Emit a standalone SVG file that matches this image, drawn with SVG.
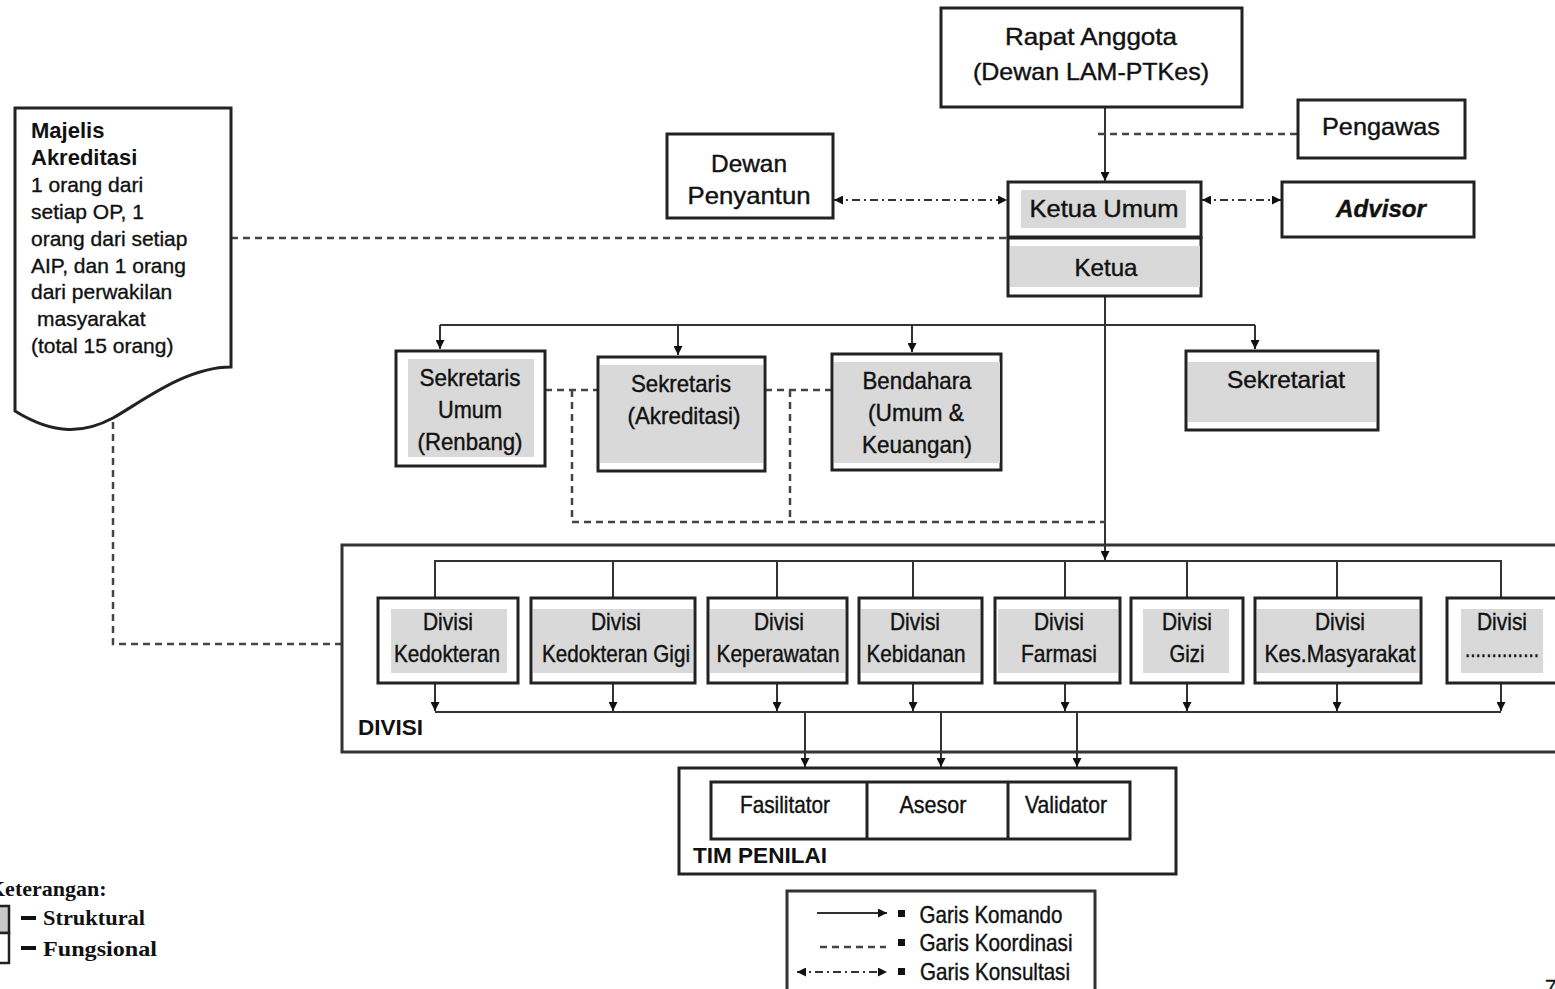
<svg xmlns="http://www.w3.org/2000/svg" width="1555" height="989" viewBox="0 0 1555 989">
  <defs>
    <style>
      .box{fill:#fff;stroke:#222;stroke-width:3}
      .gray{fill:#d9d9d9;stroke:none}
      .n{font-family:"Liberation Sans Narrow","Liberation Sans",Arial,sans-serif;fill:#111;stroke:#111;stroke-width:0.4;text-anchor:middle;font-size:24px}
      .s{font-family:"Liberation Sans",Arial,sans-serif;fill:#111;stroke:#111;stroke-width:0.35;font-size:21px}
      .sb{font-family:"Liberation Sans",Arial,sans-serif;fill:#111;font-size:22px;font-weight:bold}
      .serif{font-family:"Liberation Serif","Times New Roman",serif;fill:#111;font-weight:bold;font-size:22px}
      .cmd{fill:none;stroke:#333;stroke-width:2}
      .coord{fill:none;stroke:#444;stroke-width:2.5;stroke-dasharray:7 5}
      .cons{fill:none;stroke:#333;stroke-width:2;stroke-dasharray:8 4 2 4}
    </style>
    <marker id="arr" viewBox="0 0 10 10" refX="10" refY="5" markerWidth="9" markerHeight="9" markerUnits="userSpaceOnUse" orient="auto-start-reverse">
      <path d="M0,0 L10,5 L0,10 Z" fill="#111"/>
    </marker>
  </defs>

  <!-- connectors -->
  <g id="connectors">
    <!-- command lines -->
    <path class="cmd" d="M1105,107 V181" marker-end="url(#arr)"/>
    <path class="cmd" d="M1105,296 V560" marker-end="url(#arr)"/>
    <path class="cmd" d="M440,325 H1255"/>
    <path class="cmd" d="M440,325 V349" marker-end="url(#arr)"/>
    <path class="cmd" d="M678,325 V355" marker-end="url(#arr)"/>
    <path class="cmd" d="M912,325 V352" marker-end="url(#arr)"/>
    <path class="cmd" d="M1255,325 V349" marker-end="url(#arr)"/>
    <path class="cmd" d="M435,598 V561 H1501 V598"/>
    <path class="cmd" d="M613,561 V598 M777,561 V598 M913,561 V598 M1065,561 V598 M1187,561 V598 M1337,561 V598"/>
    <path class="cmd" d="M435,712 H1501"/>
    <path class="cmd" d="M435,683 V711" marker-end="url(#arr)"/>
    <path class="cmd" d="M613,683 V711" marker-end="url(#arr)"/>
    <path class="cmd" d="M777,683 V711" marker-end="url(#arr)"/>
    <path class="cmd" d="M913,683 V711" marker-end="url(#arr)"/>
    <path class="cmd" d="M1065,683 V711" marker-end="url(#arr)"/>
    <path class="cmd" d="M1187,683 V711" marker-end="url(#arr)"/>
    <path class="cmd" d="M1337,683 V711" marker-end="url(#arr)"/>
    <path class="cmd" d="M1501,683 V711" marker-end="url(#arr)"/>
    <path class="cmd" d="M805,712 V767" marker-end="url(#arr)"/>
    <path class="cmd" d="M941,712 V767" marker-end="url(#arr)"/>
    <path class="cmd" d="M1077,712 V767" marker-end="url(#arr)"/>
    <!-- coordination lines -->
    <path class="coord" d="M1098,134 H1298"/>
    <path class="coord" d="M231,238 H1008"/>
    <path class="coord" d="M545,390 H598 M765,390 H832"/>
    <path class="coord" d="M572,390 V522 H1105"/>
    <path class="coord" d="M790,390 V518"/>
    <path class="coord" d="M113,422 V644 H342"/>
    <!-- consultation lines -->
    <path class="cons" d="M834,200 H1007" marker-start="url(#arr)" marker-end="url(#arr)"/>
    <path class="cons" d="M1202,200 H1281" marker-start="url(#arr)" marker-end="url(#arr)"/>
  </g>

  <!-- top level -->
  <g id="rapat-anggota">
    <rect class="box" x="941" y="8" width="301" height="99"/>
    <text class="n" x="1091" y="45" font-size="27" textLength="172" lengthAdjust="spacingAndGlyphs">Rapat Anggota</text>
    <text class="n" x="1091" y="80" font-size="27" textLength="236" lengthAdjust="spacingAndGlyphs">(Dewan LAM-PTKes)</text>
  </g>
  <g id="pengawas">
    <rect class="box" x="1298" y="100" width="167" height="58"/>
    <text class="n" x="1381" y="135" font-size="26" textLength="118" lengthAdjust="spacingAndGlyphs">Pengawas</text>
  </g>
  <g id="dewan-penyantun">
    <rect class="box" x="667" y="134" width="166" height="84"/>
    <text class="n" x="749" y="172" font-size="26" textLength="76" lengthAdjust="spacingAndGlyphs">Dewan</text>
    <text class="n" x="749" y="204" font-size="26" textLength="123" lengthAdjust="spacingAndGlyphs">Penyantun</text>
  </g>
  <g id="ketua-umum">
    <rect class="box" x="1008" y="182" width="193" height="55"/>
    <rect class="gray" x="1021" y="190" width="165" height="38"/>
    <text class="n" x="1104" y="217" font-size="26" textLength="149" lengthAdjust="spacingAndGlyphs">Ketua Umum</text>
  </g>
  <g id="ketua">
    <rect class="box" x="1008" y="238" width="193" height="58"/>
    <rect class="gray" x="1010" y="246" width="190" height="41"/>
    <text class="n" x="1106" y="276" font-size="26" textLength="63" lengthAdjust="spacingAndGlyphs">Ketua</text>
  </g>
  <g id="advisor">
    <rect class="box" x="1282" y="182" width="192" height="55"/>
    <text class="n" x="1381" y="217" font-size="26" font-weight="bold" font-style="italic" textLength="90" lengthAdjust="spacingAndGlyphs">Advisor</text>
  </g>

  <!-- Majelis Akreditasi (document shape) -->
  <g id="majelis-akreditasi">
    <path class="box" d="M15,108 H231 V367 C185,367 140,403 113,418 C85,433 55,436 15,411 Z"/>
    <text class="sb" x="31" y="138">Majelis</text>
    <text class="sb" x="31" y="165">Akreditasi</text>
    <text class="s" x="31" y="192">1 orang dari</text>
    <text class="s" x="31" y="219">setiap OP, 1</text>
    <text class="s" x="31" y="246">orang dari setiap</text>
    <text class="s" x="31" y="273">AIP, dan 1 orang</text>
    <text class="s" x="31" y="299">dari perwakilan</text>
    <text class="s" x="37" y="326">masyarakat</text>
    <text class="s" x="31" y="353">(total 15 orang)</text>
  </g>

  <!-- second level -->
  <g id="sekretaris-umum">
    <rect class="box" x="396" y="351" width="149" height="115"/>
    <rect class="gray" x="408" y="359" width="126" height="98"/>
    <text class="n" x="470" y="386" textLength="101" lengthAdjust="spacingAndGlyphs">Sekretaris</text>
    <text class="n" x="470" y="418" textLength="64" lengthAdjust="spacingAndGlyphs">Umum</text>
    <text class="n" x="470" y="450" textLength="105" lengthAdjust="spacingAndGlyphs">(Renbang)</text>
  </g>
  <g id="sekretaris-akreditasi">
    <rect class="box" x="598" y="357" width="167" height="114"/>
    <rect class="gray" x="600" y="365" width="163" height="98"/>
    <text class="n" x="681" y="392" textLength="100" lengthAdjust="spacingAndGlyphs">Sekretaris</text>
    <text class="n" x="684" y="424" textLength="113" lengthAdjust="spacingAndGlyphs">(Akreditasi)</text>
  </g>
  <g id="bendahara">
    <rect class="box" x="832" y="354" width="169" height="116"/>
    <rect class="gray" x="834" y="362" width="166" height="101"/>
    <text class="n" x="917" y="389" textLength="109" lengthAdjust="spacingAndGlyphs">Bendahara</text>
    <text class="n" x="916" y="421" textLength="96" lengthAdjust="spacingAndGlyphs">(Umum &amp;</text>
    <text class="n" x="917" y="453" textLength="110" lengthAdjust="spacingAndGlyphs">Keuangan)</text>
  </g>
  <g id="sekretariat">
    <rect class="box" x="1186" y="351" width="192" height="79"/>
    <rect class="gray" x="1188" y="362" width="188" height="60"/>
    <text class="n" x="1286" y="388" font-size="26" textLength="118" lengthAdjust="spacingAndGlyphs">Sekretariat</text>
  </g>

  <!-- DIVISI container -->
  <g id="divisi">
    <path d="M1560,545 H342 V752 H1560" fill="none" stroke="#333" stroke-width="3"/>
    <text class="sb" x="358" y="735" textLength="65" lengthAdjust="spacingAndGlyphs">DIVISI</text>
  </g>
  <g id="divisi-kedokteran">
    <rect class="box" x="378" y="598" width="140" height="85"/>
    <rect class="gray" x="391" y="609" width="116" height="64"/>
    <text class="n" x="448" y="630" font-size="23" textLength="50" lengthAdjust="spacingAndGlyphs">Divisi</text>
    <text class="n" x="447" y="662" font-size="23" textLength="106" lengthAdjust="spacingAndGlyphs">Kedokteran</text>
  </g>
  <g id="divisi-kedokteran-gigi">
    <rect class="box" x="531" y="598" width="164" height="85"/>
    <rect class="gray" x="533" y="609" width="160" height="64"/>
    <text class="n" x="616" y="630" font-size="23" textLength="50" lengthAdjust="spacingAndGlyphs">Divisi</text>
    <text class="n" x="616" y="662" font-size="23" textLength="148" lengthAdjust="spacingAndGlyphs">Kedokteran Gigi</text>
  </g>
  <g id="divisi-keperawatan">
    <rect class="box" x="708" y="598" width="139" height="85"/>
    <rect class="gray" x="710" y="609" width="135" height="64"/>
    <text class="n" x="779" y="630" font-size="23" textLength="50" lengthAdjust="spacingAndGlyphs">Divisi</text>
    <text class="n" x="778" y="662" font-size="23" textLength="123" lengthAdjust="spacingAndGlyphs">Keperawatan</text>
  </g>
  <g id="divisi-kebidanan">
    <rect class="box" x="859" y="598" width="123" height="85"/>
    <rect class="gray" x="861" y="609" width="119" height="64"/>
    <text class="n" x="915" y="630" font-size="23" textLength="50" lengthAdjust="spacingAndGlyphs">Divisi</text>
    <text class="n" x="916" y="662" font-size="23" textLength="99" lengthAdjust="spacingAndGlyphs">Kebidanan</text>
  </g>
  <g id="divisi-farmasi">
    <rect class="box" x="995" y="598" width="125" height="85"/>
    <rect class="gray" x="998" y="609" width="120" height="64"/>
    <text class="n" x="1059" y="630" font-size="23" textLength="50" lengthAdjust="spacingAndGlyphs">Divisi</text>
    <text class="n" x="1059" y="662" font-size="23" textLength="76" lengthAdjust="spacingAndGlyphs">Farmasi</text>
  </g>
  <g id="divisi-gizi">
    <rect class="box" x="1131" y="598" width="112" height="85"/>
    <rect class="gray" x="1143" y="609" width="86" height="64"/>
    <text class="n" x="1187" y="630" font-size="23" textLength="50" lengthAdjust="spacingAndGlyphs">Divisi</text>
    <text class="n" x="1187" y="662" font-size="23" textLength="35" lengthAdjust="spacingAndGlyphs">Gizi</text>
  </g>
  <g id="divisi-kes-masyarakat">
    <rect class="box" x="1255" y="598" width="166" height="85"/>
    <rect class="gray" x="1257" y="609" width="162" height="64"/>
    <text class="n" x="1340" y="630" font-size="23" textLength="50" lengthAdjust="spacingAndGlyphs">Divisi</text>
    <text class="n" x="1340" y="662" font-size="23" textLength="151" lengthAdjust="spacingAndGlyphs">Kes.Masyarakat</text>
  </g>
  <g id="divisi-lainnya">
    <path class="box" d="M1560,598 H1447 V683 H1560"/>
    <rect class="gray" x="1461" y="609" width="82" height="64"/>
    <text class="n" x="1502" y="630" font-size="23" textLength="50" lengthAdjust="spacingAndGlyphs">Divisi</text>
    <text class="n" x="1502" y="657" font-size="23" textLength="74" lengthAdjust="spacingAndGlyphs">..............</text>
  </g>

  <!-- TIM PENILAI -->
  <g id="tim-penilai">
    <rect class="box" x="679" y="768" width="497" height="106"/>
    <rect class="box" x="711" y="782" width="419" height="57"/>
    <path d="M867,782 V839 M1008,782 V839" stroke="#222" stroke-width="3"/>
    <text class="n" x="785" y="813" textLength="90" lengthAdjust="spacingAndGlyphs">Fasilitator</text>
    <text class="n" x="933" y="813" textLength="67" lengthAdjust="spacingAndGlyphs">Asesor</text>
    <text class="n" x="1066" y="813" textLength="82" lengthAdjust="spacingAndGlyphs">Validator</text>
    <text class="sb" x="693" y="863" textLength="134" lengthAdjust="spacingAndGlyphs">TIM PENILAI</text>
  </g>

  <!-- legend: line types -->
  <g id="legend-lines">
    <path d="M787,995 V891 H1095 V995" fill="none" stroke="#333" stroke-width="3"/>
    <path class="cmd" d="M817,913 H887" marker-end="url(#arr)"/>
    <rect x="898" y="910" width="7" height="7" fill="#111"/>
    <text class="n" x="991" y="923" font-size="22" textLength="143" lengthAdjust="spacingAndGlyphs">Garis Komando</text>
    <path class="coord" d="M820,947 H886"/>
    <rect x="898" y="939" width="7" height="7" fill="#111"/>
    <text class="n" x="996" y="951" font-size="22" textLength="153" lengthAdjust="spacingAndGlyphs">Garis Koordinasi</text>
    <path class="cons" d="M797,972 H887" marker-start="url(#arr)" marker-end="url(#arr)"/>
    <rect x="898" y="968" width="7" height="7" fill="#111"/>
    <text class="n" x="995" y="980" font-size="22" textLength="150" lengthAdjust="spacingAndGlyphs">Garis Konsultasi</text>
  </g>

  <!-- legend: box types -->
  <g id="legend-boxes">
    <text class="serif" x="-12" y="896">Keterangan:</text>
    <rect x="-5" y="906" width="14" height="27" fill="#c8c8c8" stroke="#222" stroke-width="2.5"/>
    <rect x="-5" y="933" width="14" height="30" fill="#fff" stroke="#222" stroke-width="2.5"/>
    <rect x="21" y="916" width="15" height="4" fill="#111"/>
    <text class="serif" x="43" y="925" textLength="102" lengthAdjust="spacingAndGlyphs">Struktural</text>
    <rect x="21" y="946" width="15" height="4" fill="#111"/>
    <text class="serif" x="43" y="956" textLength="114" lengthAdjust="spacingAndGlyphs">Fungsional</text>
  </g>

  <text class="s" x="1545" y="994" font-size="22">7</text>
</svg>
